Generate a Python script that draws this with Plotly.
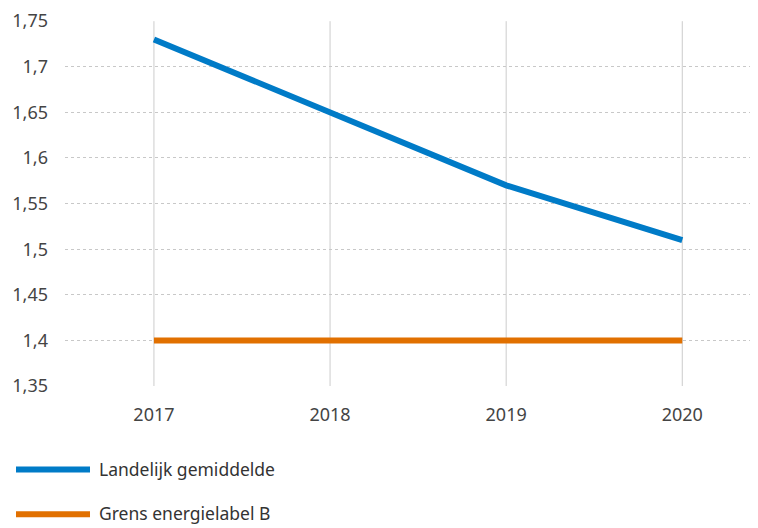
import plotly.graph_objects as go

years = ["2017", "2018", "2019", "2020"]
landelijk = [1.73, 1.65, 1.57, 1.51]
grens_b = [1.40, 1.40, 1.40, 1.40]
series_names = ["Landelijk gemiddelde", "Grens energielabel B"]
series_colors = ["#007bc7", "#e17000"]
y_ticks = [1.35, 1.40, 1.45, 1.50, 1.55, 1.60, 1.65, 1.70, 1.75]
y_ticklabels = ["1,35", "1,4", "1,45", "1,5", "1,55", "1,6", "1,65", "1,7", "1,75"]

FONT = "Noto Sans"
TXT = "#444444"

# page body has an 8px margin; figure placed at (8, 8)
OFF = 8
W, H = 758 - OFF, 528 - OFF
PL, PR, PT, PB = 65, 758, 19, 386  # plot area in window pixels
ml, mt = PL - OFF, PT - OFF
mb = 528 - PB
plot_w, plot_h = PR - PL, PB - PT


def px_x(xw):
    return (xw - PL) / plot_w


def px_y(yw):
    return 1 - (yw - PT) / plot_h


fig = go.Figure()
for name, vals, col in zip(series_names, [landelijk, grens_b], series_colors):
    fig.add_trace(go.Scatter(
        x=list(range(len(years))), y=vals, mode="lines", name=name,
        line=dict(color=col, width=6), showlegend=False,
    ))

shapes = []
for i in range(len(years)):
    shapes.append(dict(type="line", xref="x", yref="y", x0=i, x1=i,
                       y0=y_ticks[0], y1=y_ticks[-1],
                       line=dict(color="#cccccc", width=1), layer="below"))

annotations = []
for name, col, ywin in zip(series_names, series_colors, [470, 515]):
    shapes.append(dict(type="line", xref="paper", yref="paper",
                       x0=px_x(16), x1=px_x(90), y0=px_y(ywin), y1=px_y(ywin),
                       line=dict(color=col, width=6)))
    annotations.append(dict(xref="paper", yref="paper", x=px_x(97), y=px_y(ywin - 1),
                            text=name, showarrow=False, xanchor="left",
                            yanchor="middle",
                            font=dict(family=FONT, size=17.5, color="#333333")))

fig.update_layout(
    width=W, height=H,
    margin=dict(l=ml, r=0, t=mt, b=mb, pad=0),
    paper_bgcolor="white", plot_bgcolor="white",
    font=dict(family=FONT, size=18, color=TXT),
    shapes=shapes, annotations=annotations,
)
fig.update_xaxes(
    range=[-0.505, 3.43], tickvals=list(range(len(years))), ticktext=years,
    showgrid=False, zeroline=False, showline=False,
    ticklabelstandoff=16, tickfont=dict(family=FONT, size=18, color=TXT),
)
fig.update_yaxes(
    range=[1.35, 1.7502], tickvals=y_ticks, ticktext=y_ticklabels,
    showgrid=True, gridcolor="#c8c8c8", griddash="3px,3px", gridwidth=1,
    zeroline=False, showline=False, ticklabeloverflow="allow",
    ticklabelstandoff=16, tickfont=dict(family=FONT, size=18, color=TXT),
)

fig.write_html("out.html")
